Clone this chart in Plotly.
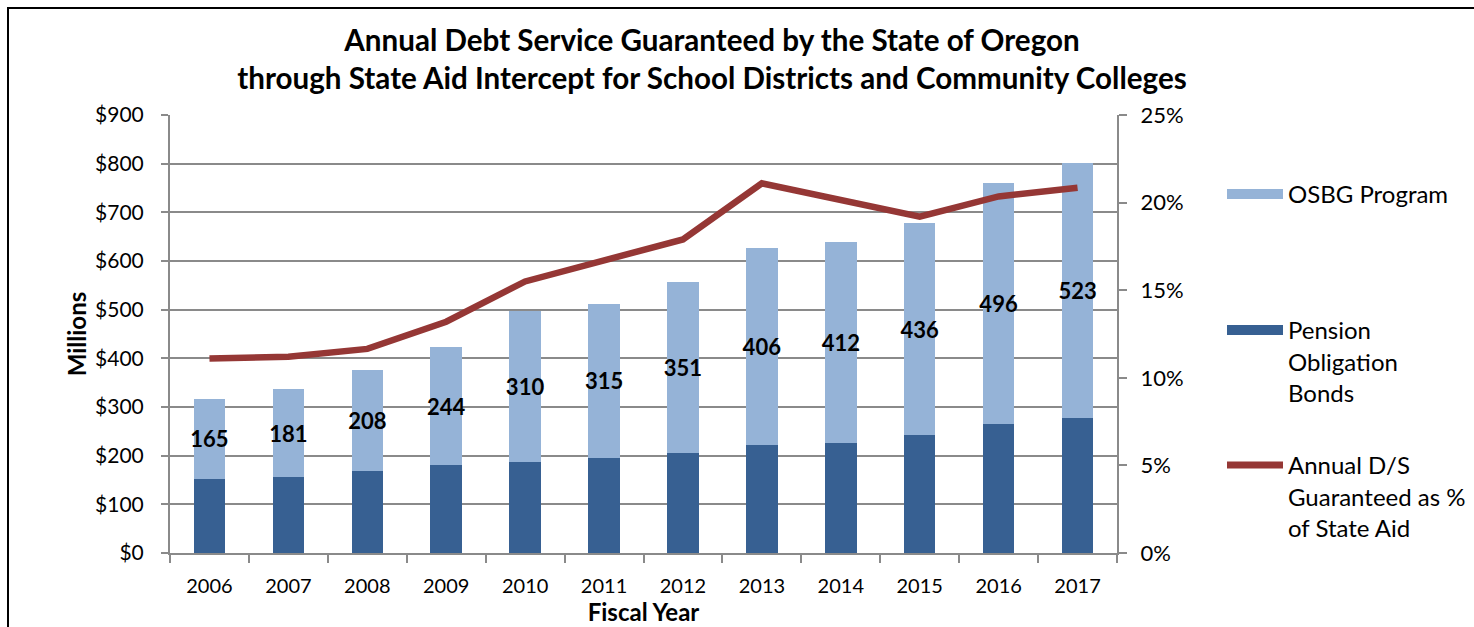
import plotly.graph_objects as go

years = ["2006", "2007", "2008", "2009", "2010", "2011", "2012", "2013", "2014", "2015", "2016", "2017"]
pension_bonds = [152, 156, 168, 180, 188, 196, 206, 221, 227, 242, 265, 278]
osbg_program = [165, 181, 208, 244, 310, 315, 351, 406, 412, 436, 496, 523]
pct_state_aid = [11.1, 11.2, 11.65, 13.2, 15.5, 16.7, 17.9, 21.1, 20.15, 19.2, 20.35, 20.85]

left_ticks = [0, 100, 200, 300, 400, 500, 600, 700, 800, 900]
left_tick_text = ["$" + str(v) for v in left_ticks]
right_ticks = [0, 5, 10, 15, 20, 25]
right_tick_text = [str(v) + "%" for v in right_ticks]

FONT = "Lato"
DARK = "#376092"
LIGHT = "#95B3D7"
RED = "#953735"
GRID = "#8a8a8a"

W, H = 1474, 627
L, R, T, B = 170, 1117, 115, 553
PW, PH = R - L, B - T

def px_x(p):
    return (p - L) / PW

def px_y(p):
    return (B - p) / PH

fig = go.Figure()
fig.add_trace(go.Bar(
    x=years, y=pension_bonds, name="Pension Obligation Bonds",
    marker=dict(color=DARK, line=dict(width=0)), width=0.40,
    showlegend=False,
))
fig.add_trace(go.Bar(
    x=years, y=osbg_program, name="OSBG Program",
    marker=dict(color=LIGHT, line=dict(width=0)), width=0.40,
    text=[str(v) for v in osbg_program], textposition="inside", textangle=0,
    insidetextanchor="middle", constraintext="none",
    textfont=dict(family=FONT, size=22, color="black", weight="bold"),
    showlegend=False,
))
fig.add_trace(go.Scatter(
    x=years, y=pct_state_aid, name="Annual D/S Guaranteed as % of State Aid",
    mode="lines", line=dict(color=RED, width=6.5), yaxis="y2",
    showlegend=False,
))

# legend entries (bar-coloured swatches drawn as thick legend lines)
fig.add_trace(go.Scatter(
    x=[None], y=[None], mode="lines", name="OSBG Program",
    line=dict(color=LIGHT, width=15), legend="legend",
))
fig.add_trace(go.Scatter(
    x=[None], y=[None], mode="lines",
    name="Pension<br>Obligation<br>Bonds",
    line=dict(color=DARK, width=15), legend="legend2",
))
fig.add_trace(go.Scatter(
    x=[None], y=[None], mode="lines",
    name="Annual D/S<br>Guaranteed as %<br>of State Aid",
    line=dict(color=RED, width=7), legend="legend3",
))

leg_common = dict(
    xref="container", yref="container", xanchor="left", yanchor="top",
    font=dict(family=FONT, size=24, color="black"), valign="top",
    bgcolor="rgba(0,0,0,0)", borderwidth=0, itemclick=False, itemdoubleclick=False,
    itemwidth=56,
)

fig.update_layout(
    width=W, height=H,
    barmode="stack",
    paper_bgcolor="white", plot_bgcolor="white",
    font=dict(family=FONT, size=20, color="black"),
    margin=dict(l=L, r=W - R, t=T, b=H - B, autoexpand=False),
    title=dict(
        text="<b>Annual Debt Service Guaranteed by the State of Oregon<br>through State Aid Intercept for School Districts and Community Colleges</b>",
        x=712 / W, xanchor="center", y=1 - 51 / H, yanchor="middle",
        xref="container", yref="container",
        font=dict(family=FONT, size=29.6, color="black"),
    ),
    xaxis=dict(
        showline=True, linecolor=GRID, linewidth=2,
        ticks="outside", tickson="boundaries", ticklen=8, tickcolor=GRID, tickwidth=2,
        tickfont=dict(size=20), ticklabelstandoff=14,
        title=dict(text="<b>Fiscal Year</b>", font=dict(size=24), standoff=2),
        showgrid=False,
    ),
    yaxis=dict(
        range=[0, 900], tickvals=left_ticks, ticktext=left_tick_text,
        showline=True, linecolor=GRID, linewidth=2,
        ticks="outside", ticklen=7, tickcolor=GRID, tickwidth=2,
        showgrid=True, gridcolor=GRID, gridwidth=2,
        zeroline=False,
        tickfont=dict(size=21), ticklabelstandoff=13,
        title=dict(text="<b>Millions</b>", font=dict(size=24), standoff=2),
    ),
    yaxis2=dict(
        overlaying="y", side="right", range=[0, 25],
        tickvals=right_ticks, ticktext=right_tick_text,
        showline=True, linecolor=GRID, linewidth=2,
        ticks="outside", ticklen=8, tickcolor=GRID, tickwidth=2,
        showgrid=False, zeroline=False,
        tickfont=dict(size=22), ticklabelstandoff=9,
    ),
    legend=dict(x=1222 / W, y=1 - 172 / H, **leg_common),
    legend2=dict(x=1222 / W, y=1 - 308 / H, **leg_common),
    legend3=dict(x=1222 / W, y=1 - 443 / H, **leg_common),
    showlegend=True,
    shapes=[dict(
        type="rect", xref="paper", yref="paper",
        x0=px_x(8), x1=px_x(W + 10), y0=px_y(H + 10), y1=px_y(8),
        line=dict(color="black", width=2), fillcolor="rgba(0,0,0,0)", layer="below",
    )],
)

fig.write_html(
    "out.html",
    config={"displayModeBar": False},
    post_script="document.body.style.margin='0';document.body.style.overflow='hidden';",
)
